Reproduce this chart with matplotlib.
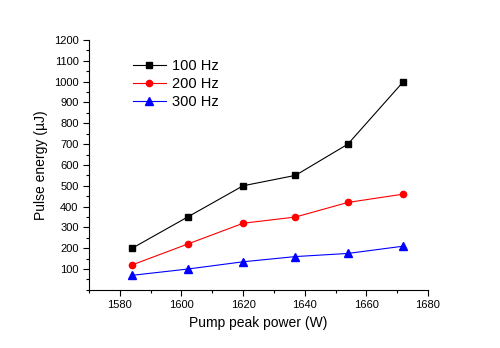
import matplotlib
matplotlib.use('Agg')
import matplotlib.pyplot as plt
from matplotlib.ticker import MultipleLocator

plt.rcParams['font.family'] = ['Liberation Sans', 'DejaVu Sans']

power = [1584, 1602, 1620, 1637, 1654, 1672]
e_100 = [200, 350, 500, 550, 700, 1000]
e_200 = [120, 220, 320, 350, 420, 460]
e_300 = [70, 100, 135, 160, 175, 210]

fig = plt.figure(figsize=(5, 3.48), dpi=100)
ax = fig.add_axes([0.178, 0.167, 0.678, 0.718])

ax.plot(power, e_100, color='black', marker='s', markersize=4.5, lw=0.8, label='100 Hz')
ax.plot(power, e_200, color='red', marker='o', markersize=4.5, lw=0.8, label='200 Hz')
ax.plot(power, e_300, color='blue', marker='^', markersize=5.5, lw=0.8, label='300 Hz')

ax.set_xlim(1570, 1680)
ax.set_ylim(0, 1200)
ax.set_xticks(range(1580, 1681, 20))
ax.set_yticks(range(100, 1201, 100))
ax.xaxis.set_minor_locator(MultipleLocator(10))
ax.yaxis.set_minor_locator(MultipleLocator(50))
ax.tick_params(which='both', direction='out', labelsize=8, width=0.8)
ax.tick_params(which='major', length=4)
ax.tick_params(which='minor', length=2)
for s in ['top', 'right']:
    ax.spines[s].set_visible(False)

ax.set_xlabel('Pump peak power (W)', fontsize=10)
ax.set_ylabel('Pulse energy (\u00b5J)', fontsize=10)

ax.legend(loc='upper left', bbox_to_anchor=(0.09, 0.978), frameon=False,
          fontsize=10.5, handlelength=2.3, labelspacing=0.3, handletextpad=0.4)

fig.savefig('out.png', dpi=100)
